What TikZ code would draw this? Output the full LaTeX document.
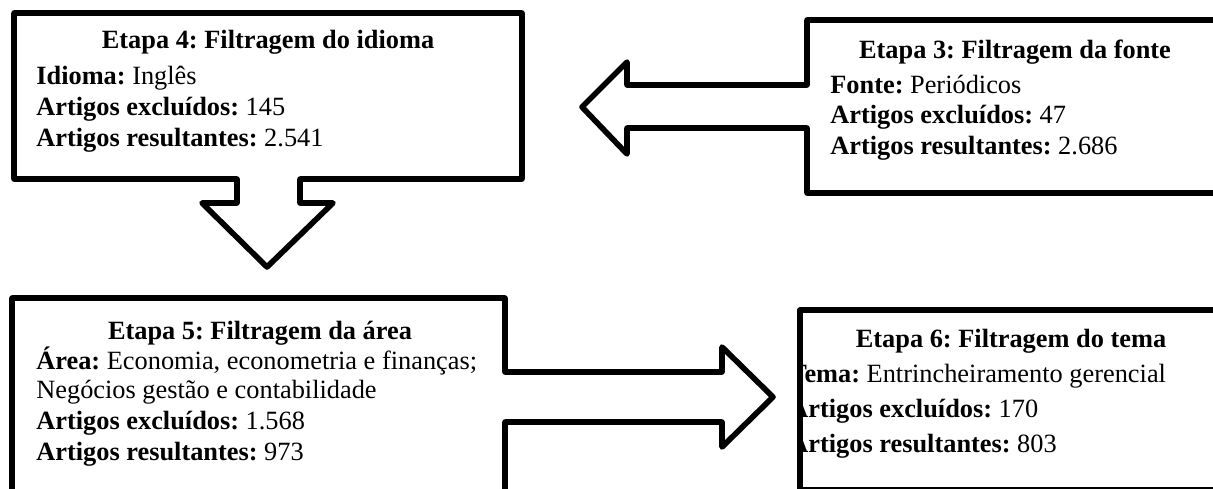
\documentclass[tikz,border=0pt]{standalone}
\usepackage{fontspec}
\setmainfont{Liberation Serif}
\frenchspacing
\usetikzlibrary{positioning}

\begin{document}
\begin{tikzpicture}[
  x=0.02cm, y=-0.02cm,
  every node/.style={font=\fontsize{15}{18}\selectfont, inner sep=0pt},
  contorno/.style={line width=3.2pt, line join=round},
  titulo/.style={anchor=base, font=\fontsize{15}{18}\selectfont\bfseries},
  linha/.style={anchor=base west}
]
  \useasboundingbox (0,0) rectangle (1213,488);
  \clip (0,0) rectangle (1213,488);

  % Etapa 4 -- caixa com seta para baixo
  \draw[contorno, fill=white] (14,13) -- (522,13) -- (522,179) -- (300,179) -- (300,203)
    -- (333,203) -- (267,267) -- (202,203) -- (237,203) -- (237,179) -- (14,179) -- cycle;
  \node[titulo] (t4) at (268,48) {Etapa 4: Filtragem do idioma};
  \node[linha] (l4a) at (36,84) {\textbf{Idioma:} Inglês};
  \node[linha] (l4b) at (36,115) {\textbf{Artigos excluídos:} 145};
  \node[linha] (l4c) at (36,146) {\textbf{Artigos resultantes:} 2.541};

  % Etapa 3 -- caixa com seta para a esquerda
  \draw[contorno, fill=white] (807,20) -- (1225,20) -- (1225,193) -- (807,193) -- (807,128)
    -- (627,128) -- (627,154) -- (582,107) -- (627,62) -- (627,85) -- (807,85) -- cycle;
  \node[titulo] (t3) at (1015,58) {Etapa 3: Filtragem da fonte};
  \node[linha] (l3a) at (830,93) {\textbf{Fonte:} Periódicos};
  \node[linha] (l3b) at (830,123) {\textbf{Artigos excluídos:} 47};
  \node[linha] (l3c) at (830,154) {\textbf{Artigos resultantes:} 2.686};

  % Etapa 5 -- caixa com seta para a direita
  \draw[contorno, fill=white] (12,298) -- (505,298) -- (505,372) -- (722,372) -- (722,347)
    -- (773,397) -- (722,447) -- (722,422) -- (505,422) -- (505,500) -- (12,500) -- cycle;
  \node[titulo] (t5) at (260,339) {Etapa 5: Filtragem da área};
  \node[linha] (l5a) at (36,369) {\textbf{Área:} Economia, econometria e finanças;};
  \node[linha] (l5b) at (36,398) {Negócios gestão e contabilidade};
  \node[linha] (l5c) at (36,429) {\textbf{Artigos excluídos:} 1.568};
  \node[linha] (l5d) at (36,460) {\textbf{Artigos resultantes:} 973};

  % Etapa 6 -- texto cortado pela borda esquerda
  \begin{scope}
    \clip (800,310) rectangle (1213,488);
    \node[titulo] (t6) at (1011,347) {Etapa 6: Filtragem do tema};
    \node[linha] (l6a) at (789,382) {\textbf{Tema:} Entrincheiramento gerencial};
    \node[linha] (l6b) at (789,417) {\textbf{Artigos excluídos:} 170};
    \node[linha] (l6c) at (789,452) {\textbf{Artigos resultantes:} 803};
  \end{scope}
  \draw[contorno] (800,310) rectangle (1225,490);
\end{tikzpicture}
\end{document}
